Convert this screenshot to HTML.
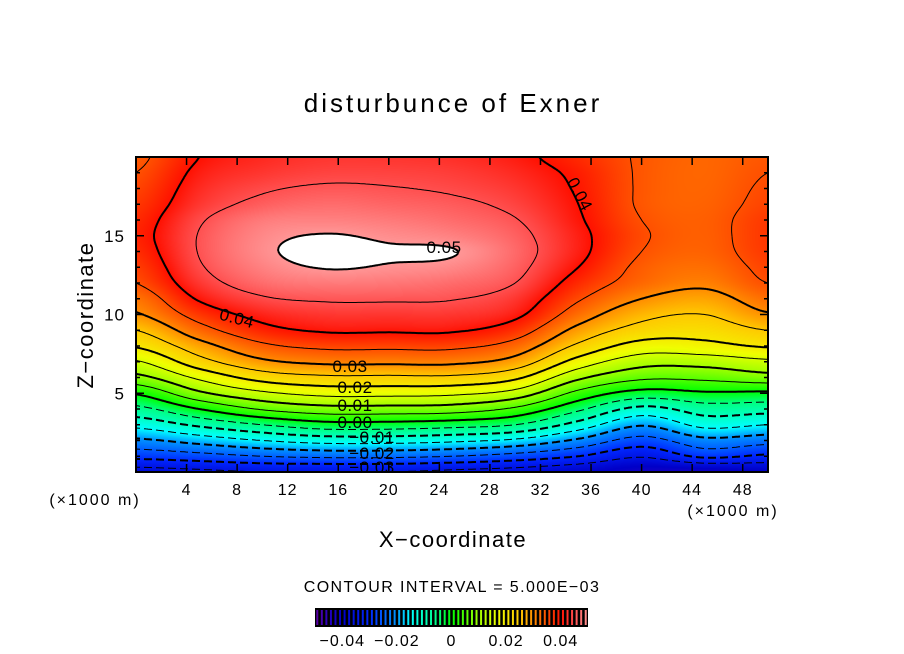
<!DOCTYPE html>
<html><head><meta charset="utf-8">
<style>
body{margin:0;background:#fff;}
#wrap{position:relative;width:904px;height:654px;overflow:hidden;font-family:"Liberation Sans",sans-serif;}
svg text{font-family:"Liberation Sans",sans-serif;}
</style></head>
<body>
<div id="wrap">
<canvas id="cv" width="632" height="315" style="position:absolute;left:136px;top:157px"></canvas>
<svg id="sv" width="904" height="654" style="position:absolute;left:0;top:0">
<text x="453" y="112" font-size="26" letter-spacing="3" text-anchor="middle">disturbunce of Exner</text>
<text transform="translate(93,315) rotate(-90)" font-size="22" letter-spacing="1.5" text-anchor="middle">Z−coordinate</text>
<text x="453" y="547" font-size="22" letter-spacing="1.5" text-anchor="middle">X−coordinate</text>
<text x="95" y="505" font-size="16" letter-spacing="2" text-anchor="middle">(×1000 m)</text>
<text x="733" y="516" font-size="16" letter-spacing="2" text-anchor="middle">(×1000 m)</text>
<text x="452" y="592" font-size="16" letter-spacing="1.4" text-anchor="middle">CONTOUR INTERVAL = 5.000E−03</text>
<g id="lines"></g>
<g id="labels"></g>
<g id="ticks"></g>
<rect x="136" y="157" width="632" height="315" fill="none" stroke="#000" stroke-width="2"/>
<g id="cbar"></g>
</svg>
</div>
<script>
// grid x positions (x1000 m) and z levels
const xGrid=[0,5,10,15,20,25,30,35,40,45,50];
const zGrid=[0,1,2,3,4,5,6,7,8,9,10,11,12,13,14,15,16,17,18,19,20];
const colX0=[-0.037,-0.0285,-0.021,-0.0135,-0.0065,0.0005,0.0085,0.0145,0.0205,0.025,0.0295,0.032,0.035,0.0365,0.0378,0.0385,0.038,0.037,0.036,0.035,0.034];
const colX5=[-0.036,-0.027,-0.018,-0.009,0.0,0.009,0.016,0.023,0.028,0.033,0.037,0.0405,0.043,0.0445,0.0452,0.0452,0.0445,0.043,0.042,0.041,0.040];
const colX10=[-0.035,-0.025,-0.015,-0.005,0.0055,0.014,0.022,0.029,0.034,0.0385,0.0415,0.0445,0.047,0.0485,0.0493,0.049,0.048,0.046,0.0445,0.043,0.042];
const colX15=[-0.035,-0.024,-0.013,-0.002,0.008,0.0165,0.024,0.031,0.036,0.0405,0.043,0.0455,0.048,0.0502,0.0512,0.0502,0.0485,0.047,0.0455,0.044,0.043];
const colX20=[-0.035,-0.024,-0.013,-0.002,0.008,0.0165,0.024,0.031,0.036,0.0405,0.043,0.0455,0.0478,0.0497,0.0504,0.0494,0.048,0.0465,0.0452,0.044,0.043];
const colX25=[-0.036,-0.025,-0.014,-0.003,0.0075,0.016,0.024,0.031,0.036,0.0405,0.043,0.0452,0.047,0.049,0.0502,0.0485,0.047,0.0458,0.0445,0.0435,0.0425];
const colX30=[-0.037,-0.027,-0.016,-0.005,0.004,0.013,0.021,0.028,0.033,0.0375,0.041,0.043,0.045,0.0462,0.0468,0.0462,0.0452,0.044,0.043,0.042,0.041];
const colX35=[-0.039,-0.030,-0.021,-0.012,-0.004,0.0035,0.011,0.018,0.024,0.0285,0.0325,0.0355,0.038,0.040,0.0412,0.0412,0.0405,0.040,0.0395,0.039,0.038];
const colX40=[-0.042,-0.0345,-0.027,-0.0195,-0.0115,-0.002,0.006,0.012,0.018,0.023,0.0265,0.030,0.033,0.034,0.035,0.0355,0.035,0.0345,0.0345,0.0345,0.0345];
const colX45=[-0.042,-0.029,-0.0215,-0.0135,-0.0075,-0.0007,0.0062,0.012,0.0185,0.022,0.025,0.028,0.031,0.0325,0.0335,0.0338,0.0338,0.0335,0.0333,0.0332,0.0332];
const colX50=[-0.040,-0.031,-0.023,-0.015,-0.008,-0.001,0.008,0.014,0.0205,0.025,0.0295,0.0325,0.035,0.036,0.0368,0.037,0.0368,0.036,0.0355,0.035,0.0345];
const columns=[colX0,colX5,colX10,colX15,colX20,colX25,colX30,colX35,colX40,colX45,colX50];
const contourLevels=[-0.035,-0.03,-0.025,-0.02,-0.015,-0.01,-0.005,0,0.005,0.01,0.015,0.02,0.025,0.03,0.035,0.04,0.045,0.05];
const xTicks=[4,8,12,16,20,24,28,32,36,40,44,48];
const zTicks=[5,10,15];
const cbarTicks=[-0.04,-0.02,0,0.02,0.04];
const cbarTickLabels=["−0.04","−0.02","0","0.02","0.04"];
const contourLabelText=["0.05","0.04","0.04","0.03","0.02","0.01","0.00","−0.01","−0.02","−0.03"];
const contourLabelPos=[[444,253,0],[237,324,15],[580,200,62],[350,372,0],[355,393,0],[355,411,0],[355,428,0],[372,443,0],[372,459,0],[372,473,0]];

const PX0=136,PX1=768,PY0=157,PY1=472,XMAX=50,ZMAX=20;
const sx=x=>PX0+(x/XMAX)*(PX1-PX0);
const sz=z=>PY1-(z/ZMAX)*(PY1-PY0);
const NS='http://www.w3.org/2000/svg';

function cr(p0,p1,p2,p3,t){return 0.5*((2*p1)+(-p0+p2)*t+(2*p0-5*p1+4*p2-p3)*t*t+(-p0+3*p1-3*p2+p3)*t*t*t);}
function colAt(c,z){
  const n=zGrid.length;let i=Math.floor(z);if(i<0)i=0;if(i>n-2)i=n-2;const t=z-i;
  const g=k=>c[Math.max(0,Math.min(n-1,k))];
  return cr(g(i-1),g(i),g(i+1),g(i+2),t);
}
function field(x,z){
  const dx=xGrid[1]-xGrid[0];const n=columns.length;
  let f=x/dx;let i=Math.floor(f);if(i<0)i=0;if(i>n-2)i=n-2;const t=f-i;
  const g=k=>colAt(columns[Math.max(0,Math.min(n-1,k))],z);
  return cr(g(i-1),g(i),g(i+1),g(i+2),t);
}
const cstops=[[-0.05,[96,0,160]],[-0.045,[40,0,190]],[-0.04,[0,0,200]],[-0.03,[0,40,255]],[-0.02,[0,150,255]],[-0.015,[0,255,255]],[-0.005,[0,255,128]],[0,[0,255,0]],[0.01,[160,255,0]],[0.017,[240,255,0]],[0.025,[255,200,0]],[0.03,[255,140,0]],[0.035,[255,80,0]],[0.04,[255,16,0]],[0.045,[255,80,80]],[0.05,[255,150,150]]];
function cmap(v){
  if(v>0.05)return[255,255,255];
  if(v<=cstops[0][0])return cstops[0][1];
  for(let k=1;k<cstops.length;k++){if(v<=cstops[k][0]){const a=cstops[k-1],b=cstops[k];const t=(v-a[0])/(b[0]-a[0]);return[0,1,2].map(q=>Math.round(a[1][q]+(b[1][q]-a[1][q])*t));}}
  return cstops[cstops.length-1][1];
}
// fill
const cv=document.getElementById('cv');const ctx=cv.getContext('2d');
const W=632,H=315;const img=ctx.createImageData(W,H);
for(let j=0;j<H;j++){const z=ZMAX*(1-(j+0.5)/H);for(let i=0;i<W;i++){const x=XMAX*(i+0.5)/W;const c=cmap(field(x,z));const o=(j*W+i)*4;img.data[o]=c[0];img.data[o+1]=c[1];img.data[o+2]=c[2];img.data[o+3]=255;}}
ctx.putImageData(img,0,0);
// contours via marching squares
const STEP=2;const NX=Math.ceil(W/STEP)+1,NZ=Math.ceil(H/STEP)+1;
const grid=[];for(let j=0;j<NZ;j++){const row=[];const py=Math.min(j*STEP,H);for(let i=0;i<NX;i++){const px=Math.min(i*STEP,W);row.push(field(XMAX*px/W,ZMAX*(1-py/H)));}grid.push(row);}
const linesG=document.getElementById('lines');
contourLevels.forEach(L=>{
  let d='';
  for(let j=0;j<NZ-1;j++)for(let i=0;i<NX-1;i++){
    const x0=PX0+Math.min(i*STEP,W),x1=PX0+Math.min((i+1)*STEP,W),y0=PY0+Math.min(j*STEP,H),y1=PY0+Math.min((j+1)*STEP,H);
    const a=grid[j][i],b=grid[j][i+1],c=grid[j+1][i+1],e=grid[j+1][i];
    const pts=[];
    const edge=(va,vb,xa,ya,xb,yb)=>{if((va<L)!==(vb<L)){const t=(L-va)/(vb-va);pts.push([xa+(xb-xa)*t,ya+(yb-ya)*t]);}};
    edge(a,b,x0,y0,x1,y0);edge(b,c,x1,y0,x1,y1);edge(e,c,x0,y1,x1,y1);edge(a,e,x0,y0,x0,y1);
    for(let k=0;k+1<pts.length;k+=2){
      if(L<0){const mx=(pts[k][0]+pts[k+1][0])/2;if((mx%12)>8)continue;}
      d+='M'+pts[k][0].toFixed(1)+' '+pts[k][1].toFixed(1)+'L'+pts[k+1][0].toFixed(1)+' '+pts[k+1][1].toFixed(1);
    }
  }
  const p=document.createElementNS(NS,'path');
  p.setAttribute('d',d);p.setAttribute('fill','none');p.setAttribute('stroke','#000');
  const major=Math.abs(Math.round(L/0.01)*0.01-L)<1e-6;
  p.setAttribute('stroke-width',major?2:1);
  
  
  linesG.appendChild(p);
});
const labG=document.getElementById('labels');
contourLabelText.forEach((s,k)=>{
  const [x,y,r]=contourLabelPos[k];
  const t=document.createElementNS(NS,'text');
  t.setAttribute('x',x);t.setAttribute('y',y);t.setAttribute('font-size','17');t.setAttribute('letter-spacing','0.5');t.setAttribute('text-anchor','middle');
  if(r)t.setAttribute('transform','rotate('+r+' '+x+' '+(y-6)+')');
  t.textContent=s;
  
  
  labG.appendChild(t);
});
// ticks
const tg=document.getElementById('ticks');
function ln(x1,y1,x2,y2,w){const l=document.createElementNS(NS,'line');l.setAttribute('x1',x1);l.setAttribute('y1',y1);l.setAttribute('x2',x2);l.setAttribute('y2',y2);l.setAttribute('stroke','#000');l.setAttribute('stroke-width',w||1.5);return l;}
xTicks.forEach(v=>{
  const x=sx(v);
  const a=ln(x,PY1,x,PY1-8);tg.appendChild(a);
  const b=ln(x,PY0,x,PY0+8);tg.appendChild(b);
  const t=document.createElementNS(NS,'text');t.setAttribute('x',x);t.setAttribute('y',495);t.setAttribute('font-size','16');t.setAttribute('letter-spacing','1');t.setAttribute('text-anchor','middle');t.textContent=v;
  
  
  tg.appendChild(t);
});
for(let z=1;z<ZMAX;z++){
  const y=sz(z);const major=zTicks.includes(z);
  const a=ln(PX0,y,PX0+(major?8:4),y);tg.appendChild(a);
  const b=ln(PX1,y,PX1-(major?8:4),y);tg.appendChild(b);
}
zTicks.forEach(v=>{
  const t=document.createElementNS(NS,'text');t.setAttribute('x',125);t.setAttribute('y',sz(v)+6);t.setAttribute('font-size','17');t.setAttribute('letter-spacing','1');t.setAttribute('text-anchor','end');t.textContent=v;
  
  
  tg.appendChild(t);
});
// colorbar
const cb=document.getElementById('cbar');const CB0=315,CB1=588,CBY=608,CBH=19;
const cbs=v=>CB0+(v+0.05)/0.1*(CB1-CB0);
const bg=document.createElementNS(NS,'rect');bg.setAttribute('x',CB0);bg.setAttribute('y',CBY);bg.setAttribute('width',CB1-CB0);bg.setAttribute('height',CBH);bg.setAttribute('fill','#000');


cb.appendChild(bg);
for(let k=0;k<60;k++){
  const v=-0.05+(k+0.5)*0.1/60;const c=cmap(Math.min(v,0.0499));
  const l=ln(cbs(v),CBY+2,cbs(v),CBY+CBH-2,2);l.setAttribute('stroke','rgb('+c.join(',')+')');
  
  
  cb.appendChild(l);
}
cbarTicks.forEach((v,k)=>{
  const t=document.createElementNS(NS,'text');t.setAttribute('x',cbs(v));t.setAttribute('y',646);t.setAttribute('font-size','16');t.setAttribute('letter-spacing','1');t.setAttribute('text-anchor','middle');t.textContent=cbarTickLabels[k];
  
  
  cb.appendChild(t);
});
</script>
</body></html>
